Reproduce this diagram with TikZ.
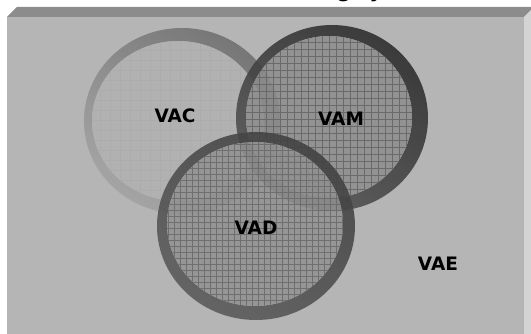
\documentclass[tikz,border=0pt]{standalone}
\usepackage{fontspec}
\setmainfont{DejaVu Sans}
\begin{document}
\begin{tikzpicture}[x=1pt,y=-1pt,
  lbl/.style={font=\bfseries\fontsize{18.5}{20}\selectfont, text=black, inner sep=0pt},
  ttl/.style={font=\bfseries\fontsize{20}{22}\selectfont, text=black, inner sep=0pt, anchor=base west},
  topface/.style={fill=black!45},
  sideface/.style={fill=black!17},
  frontface/.style={fill=black!29},
  vacband/.style={even odd rule, fill opacity=0.9, top color=black!56, bottom color=black!36, shading angle=-35},
  vamband/.style={even odd rule, fill opacity=0.9, top color=black!82, bottom color=black!66, shading angle=-35},
  vadband/.style={even odd rule, fill opacity=0.9, top color=black!74, bottom color=black!64, shading angle=-35},
  vacfill/.style={fill=black!31, fill opacity=0.8},
  vamfill/.style={fill=black!45, fill opacity=0.85},
  vadfill/.style={fill=black!43, fill opacity=0.85},
  vacgrid/.style={draw=black!36, line width=0.5pt, opacity=0.35},
  vamgrid/.style={draw=black!62, line width=0.6pt, opacity=0.8},
  vadgrid/.style={draw=black!60, line width=0.6pt, opacity=0.8},
]
\useasboundingbox (0,0) rectangle (531,334);
\clip (0,0) rectangle (531,334);
\fill[white] (0,0) rectangle (531,334);
% bevelled box
\fill[topface] (7,17) -- (17,7) -- (534,7) -- (524,17) -- cycle;
\fill[sideface] (524,17) -- (534,7) -- (534,334) -- (524,334) -- cycle;
\fill[frontface] (7,17) rectangle (524,334);
% cut-off title
\node[ttl] (title) at (337,-2.6) {g\kern 18pt y};
% VAC
\shade[vacband] (182,121) ellipse [x radius=98, y radius=93] (178,121) ellipse [x radius=86, y radius=80];
\begin{scope}
  \clip (178,121) ellipse [x radius=86, y radius=80];
  \fill[vacfill] (90,39) rectangle (266,203);
  \draw[vacgrid, step=10pt] (90,210) grid (270,30);
\end{scope}
% VAM
\shade[vamband] (332,118) ellipse [x radius=96, y radius=93] (329,117) ellipse [x radius=83, y radius=81];
\begin{scope}
  \clip (329,117) ellipse [x radius=83, y radius=81];
  \fill[vamfill] (244,34) rectangle (414,200);
  \draw[vamgrid, step=7pt] (238,205) grid (420,28);
\end{scope}
% VAD
\shade[vadband] (256,226) ellipse [x radius=99, y radius=94] (255,224) ellipse [x radius=88, y radius=82];
\begin{scope}
  \clip (255,224) ellipse [x radius=88, y radius=82];
  \fill[vadfill] (165,140) rectangle (345,308);
  \draw[vadgrid, step=6pt] (162,310) grid (348,138);
\end{scope}
% labels
\node[lbl] (vac) at (175,116) {VAC};
\node[lbl] (vam) at (341,119) {VAM};
\node[lbl] (vad) at (256,228) {VAD};
\node[lbl] (vae) at (438,264) {VAE};
\end{tikzpicture}
\end{document}
